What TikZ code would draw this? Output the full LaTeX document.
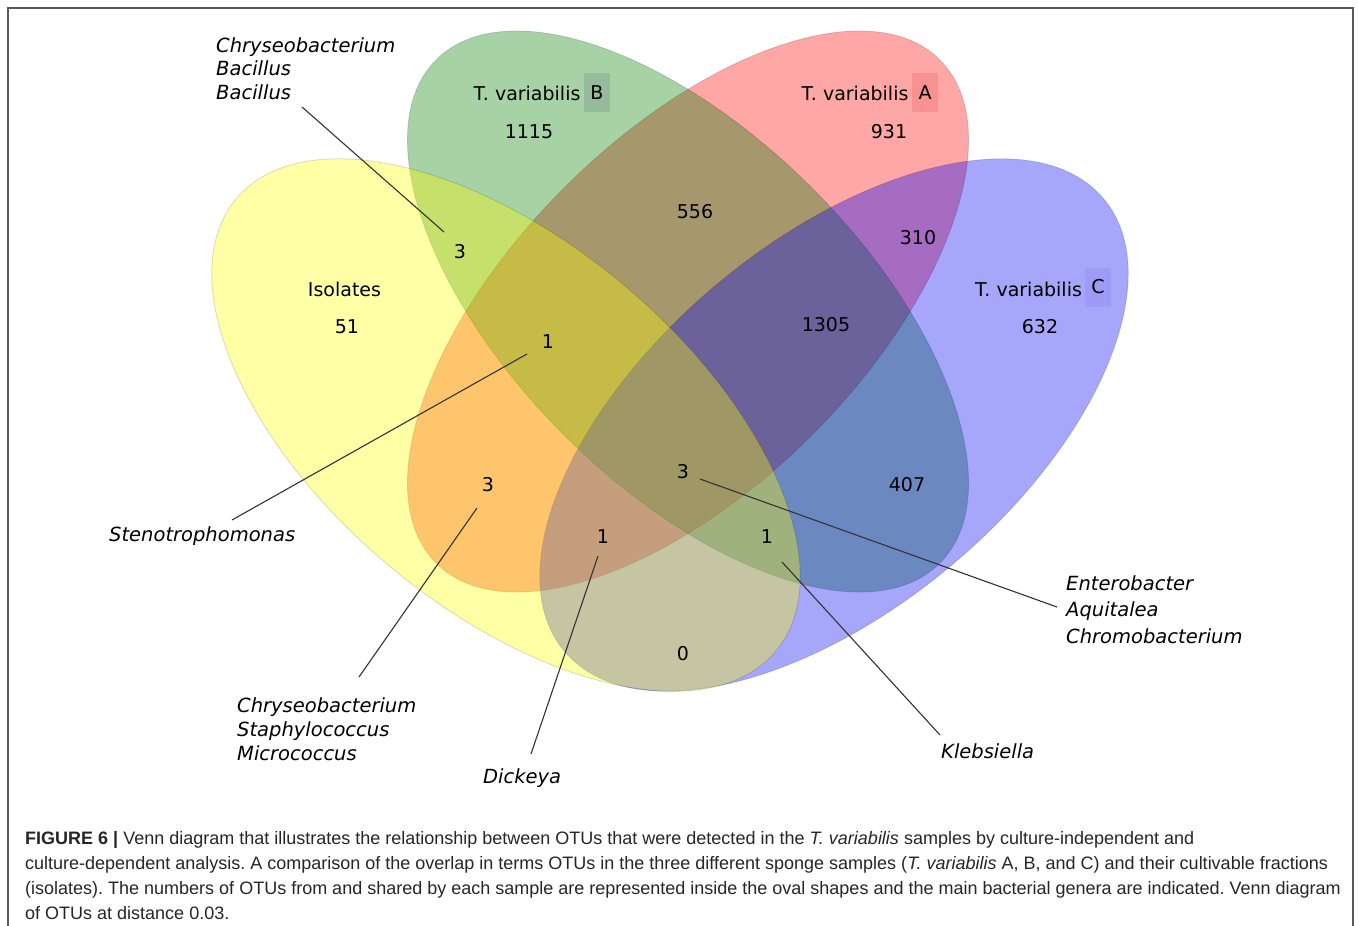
\documentclass[tikz,border=0pt]{standalone}
\usepackage{fontspec}
\setmainfont{Liberation Sans}
\newfontfamily\dejavu{DejaVu Sans}
\definecolor{cred}{RGB}{255,0,0}
\definecolor{cgreen}{RGB}{0,128,0}
\definecolor{cblue}{RGB}{0,0,245}
\definecolor{cyellow}{RGB}{255,255,0}
\definecolor{boxB}{RGB}{150,186,156}
\definecolor{boxA}{RGB}{248,146,146}
\definecolor{boxC}{RGB}{156,156,246}
\frenchspacing
\begin{document}
\begin{tikzpicture}[x=1pt,y=-1pt,
  venn/.style={draw=black, draw opacity=0.15, line width=0.8pt, fill opacity=0.35},
  num/.style={font=\dejavu\fontsize{19}{22}\selectfont, inner sep=0pt, text=black},
  genus/.style={font=\dejavu\itshape\fontsize{19.5}{23}\selectfont, inner sep=0pt, anchor=base west, text=black},
  leader/.style={draw=black!80, line width=1.1pt},
  letterbox/.style={minimum width=26pt, minimum height=39pt, inner sep=0pt, font=\dejavu\fontsize{19}{22}\selectfont},
  capline/.style={font=\fontsize{18}{25}\selectfont, anchor=base west, inner sep=0pt, text=black!85}]
\useasboundingbox (0,0) rectangle (1358,926);
\fill[white] (0,0) rectangle (1358,926);
% frame
\draw[line width=1.2pt, draw=black!65] (8,926) -- (8,8) -- (1353,8) -- (1353,926);
% ellipses (order: red, green, blue, yellow)
\path[venn, fill=cred, shift={(688,311.5)}, rotate=45] (0,0) ellipse [x radius=356pt, y radius=175pt];
\path[venn, fill=cgreen, shift={(688,311.5)}, rotate=-45] (0,0) ellipse [x radius=356pt, y radius=175pt];
\path[venn, fill=cblue, shift={(834,425)}, rotate=40] (0,0) ellipse [x radius=352pt, y radius=183pt];
\path[venn, fill=cyellow, shift={(506,425)}, rotate=-40] (0,0) ellipse [x radius=352pt, y radius=183pt];
% set labels
\node[letterbox, fill=boxB] (boxB) at (597,92.5) {B};
\node[num] (tvB) at (527,93) {T. variabilis};
\node[letterbox, fill=boxA] (boxA) at (925,92.5) {A};
\node[num] (tvA) at (855,93) {T. variabilis};
\node[letterbox, fill=boxC] (boxC) at (1098,287) {C};
\node[num] (tvC) at (1028.5,289) {T. variabilis};
\node[num] (iso) at (344.5,289) {Isolates};
% counts
\node[num] (n1115) at (529,132) {1115};
\node[num] (n931) at (889,132) {931};
\node[num] (n632) at (1040,327) {632};
\node[num] (n51) at (347,327) {51};
\node[num] (n556) at (695,212) {556};
\node[num] (n310) at (918,238) {310};
\node[num] (n1305) at (826,325) {1305};
\node[num] (nYB) at (460,252) {3};
\node[num] (nYBA) at (548,342) {1};
\node[num] (nYA) at (488,485) {3};
\node[num] (nall) at (683,472) {3};
\node[num] (n407) at (907,485) {407};
\node[num] (nYAC) at (603,537) {1};
\node[num] (nYBC) at (767,537) {1};
\node[num] (nYC) at (683,654) {0};
% genus labels
\node[genus] (g1a) at (216,52) {Chryseobacterium};
\node[genus] (g1b) at (216,75.5) {Bacillus};
\node[genus] (g1c) at (216,99) {Bacillus};
\node[genus] (g2) at (109,541) {Stenotrophomonas};
\node[genus] (g3a) at (237,712) {Chryseobacterium};
\node[genus] (g3b) at (237,736) {Staphylococcus};
\node[genus] (g3c) at (237,760) {Micrococcus};
\node[genus] (g4) at (483,783) {Dickeya};
\node[genus] (g5a) at (1066,590) {Enterobacter};
\node[genus] (g5b) at (1066,616) {Aquitalea};
\node[genus] (g5c) at (1066,643) {Chromobacterium};
\node[genus] (g6) at (941,758) {Klebsiella};
% leader lines
\coordinate (l1s) at (302,107); \coordinate (l1e) at (444,232);
\coordinate (l2s) at (527,354); \coordinate (l2e) at (232,520);
\coordinate (l3s) at (477,508); \coordinate (l3e) at (359,677);
\coordinate (l4s) at (598,556); \coordinate (l4e) at (531,754);
\coordinate (l5s) at (700,479); \coordinate (l5e) at (1057,607);
\coordinate (l6s) at (782,562); \coordinate (l6e) at (940,735);
\draw[leader] (l1s) -- (l1e);
\draw[leader] (l2s) -- (l2e);
\draw[leader] (l3s) -- (l3e);
\draw[leader] (l4s) -- (l4e);
\draw[leader] (l5s) -- (l5e);
\draw[leader] (l6s) -- (l6e);
% caption
\node[capline] (cap1) at (25,844) {\textbf{FIGURE 6 |} Venn diagram that illustrates the relationship between OTUs that were detected in the \textit{T. variabilis} samples by culture-independent and};
\node[capline] (cap2) at (25,869) {culture-dependent analysis. A comparison of the overlap in terms OTUs in the three different sponge samples (\textit{T. variabilis} A, B, and C) and their cultivable fractions};
\node[capline] (cap3) at (25,894) {(isolates). The numbers of OTUs from and shared by each sample are represented inside the oval shapes and the main bacterial genera are indicated. Venn diagram};
\node[capline] (cap4) at (25,919) {of OTUs at distance 0.03.};
\end{tikzpicture}
\end{document}
